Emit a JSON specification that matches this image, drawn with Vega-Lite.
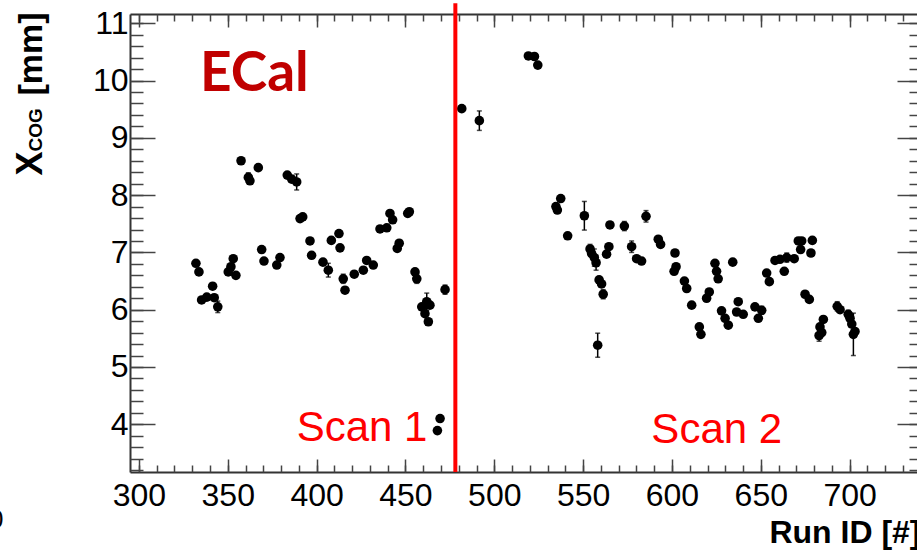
{
  "$schema": "https://vega.github.io/schema/vega-lite/v6.json",
  "autosize": "none",
  "width": 787,
  "height": 458,
  "padding": {"left": 130, "top": 14, "right": 0, "bottom": 79},
  "background": "white",
  "config": {
    "view": {"stroke": null},
    "axis": {
      "grid": false,
      "domainColor": "#333333",
      "domainWidth": 2,
      "tickColor": "#444444",
      "tickWidth": 1.5,
      "labelFont": "Liberation Sans",
      "labelFontSize": 32,
      "labelColor": "#000000",
      "labelFlush": false,
      "labelOverlap": false,
      "titleFont": "Liberation Sans",
      "titleFontWeight": "bold",
      "titleColor": "#000000"
    }
  },
  "datasets": {
    "runs": [
      {"run": 332.1, "xcog": 6.81, "err": 0.04},
      {"run": 333.8, "xcog": 6.66, "err": 0.04},
      {"run": 335.3, "xcog": 6.17, "err": 0.04},
      {"run": 338.2, "xcog": 6.22, "err": 0.04},
      {"run": 341.5, "xcog": 6.41, "err": 0.04},
      {"run": 342.4, "xcog": 6.21, "err": 0.04},
      {"run": 344.4, "xcog": 6.05, "err": 0.1},
      {"run": 350.3, "xcog": 6.66, "err": 0.04},
      {"run": 351.8, "xcog": 6.75, "err": 0.04},
      {"run": 353.1, "xcog": 6.89, "err": 0.04},
      {"run": 354.6, "xcog": 6.6, "err": 0.04},
      {"run": 357.5, "xcog": 8.6, "err": 0.04},
      {"run": 361.6, "xcog": 8.31, "err": 0.08},
      {"run": 362.5, "xcog": 8.25, "err": 0.04},
      {"run": 367.2, "xcog": 8.48, "err": 0.04},
      {"run": 369.1, "xcog": 7.05, "err": 0.04},
      {"run": 370.4, "xcog": 6.85, "err": 0.04},
      {"run": 377.6, "xcog": 6.78, "err": 0.04},
      {"run": 379.4, "xcog": 6.91, "err": 0.04},
      {"run": 383.5, "xcog": 8.35, "err": 0.04},
      {"run": 386.0, "xcog": 8.28, "err": 0.04},
      {"run": 388.8, "xcog": 8.23, "err": 0.14},
      {"run": 390.7, "xcog": 7.59, "err": 0.04},
      {"run": 392.2, "xcog": 7.62, "err": 0.04},
      {"run": 396.3, "xcog": 7.2, "err": 0.04},
      {"run": 397.2, "xcog": 6.95, "err": 0.04},
      {"run": 403.6, "xcog": 6.83, "err": 0.04},
      {"run": 406.6, "xcog": 6.69, "err": 0.12},
      {"run": 408.3, "xcog": 7.21, "err": 0.04},
      {"run": 412.6, "xcog": 7.33, "err": 0.04},
      {"run": 413.2, "xcog": 7.08, "err": 0.04},
      {"run": 415.0, "xcog": 6.54, "err": 0.08},
      {"run": 416.0, "xcog": 6.34, "err": 0.04},
      {"run": 421.2, "xcog": 6.62, "err": 0.04},
      {"run": 426.3, "xcog": 6.69, "err": 0.04},
      {"run": 428.2, "xcog": 6.86, "err": 0.04},
      {"run": 431.9, "xcog": 6.78, "err": 0.04},
      {"run": 435.7, "xcog": 7.41, "err": 0.04},
      {"run": 439.5, "xcog": 7.43, "err": 0.04},
      {"run": 441.3, "xcog": 7.68, "err": 0.04},
      {"run": 442.8, "xcog": 7.57, "err": 0.04},
      {"run": 445.4, "xcog": 7.07, "err": 0.04},
      {"run": 446.5, "xcog": 7.16, "err": 0.04},
      {"run": 451.3, "xcog": 7.68, "err": 0.04},
      {"run": 452.2, "xcog": 7.71, "err": 0.04},
      {"run": 455.4, "xcog": 6.66, "err": 0.04},
      {"run": 456.4, "xcog": 6.54, "err": 0.08},
      {"run": 459.2, "xcog": 6.05, "err": 0.04},
      {"run": 461.0, "xcog": 5.93, "err": 0.04},
      {"run": 462.0, "xcog": 6.14, "err": 0.15},
      {"run": 462.9, "xcog": 5.79, "err": 0.04},
      {"run": 463.8, "xcog": 6.08, "err": 0.04},
      {"run": 468.0, "xcog": 3.89, "err": 0.04},
      {"run": 469.5, "xcog": 4.1, "err": 0.04},
      {"run": 472.3, "xcog": 6.35, "err": 0.08},
      {"run": 481.7, "xcog": 9.51, "err": 0.04},
      {"run": 491.6, "xcog": 9.3, "err": 0.17},
      {"run": 519.2, "xcog": 10.43, "err": 0.04},
      {"run": 522.6, "xcog": 10.42, "err": 0.04},
      {"run": 524.5, "xcog": 10.27, "err": 0.04},
      {"run": 534.7, "xcog": 7.8, "err": 0.04},
      {"run": 535.5, "xcog": 7.74, "err": 0.04},
      {"run": 537.4, "xcog": 7.94, "err": 0.04},
      {"run": 541.3, "xcog": 7.29, "err": 0.04},
      {"run": 550.7, "xcog": 7.64, "err": 0.25},
      {"run": 553.9, "xcog": 7.06, "err": 0.08},
      {"run": 554.8, "xcog": 6.98, "err": 0.04},
      {"run": 556.3, "xcog": 6.91, "err": 0.15},
      {"run": 557.3, "xcog": 6.82, "err": 0.13},
      {"run": 558.2, "xcog": 5.38, "err": 0.21},
      {"run": 559.0, "xcog": 6.52, "err": 0.04},
      {"run": 560.4, "xcog": 6.45, "err": 0.04},
      {"run": 561.3, "xcog": 6.27, "err": 0.08},
      {"run": 563.2, "xcog": 6.97, "err": 0.04},
      {"run": 564.5, "xcog": 7.1, "err": 0.04},
      {"run": 565.1, "xcog": 7.48, "err": 0.04},
      {"run": 573.2, "xcog": 7.46, "err": 0.08},
      {"run": 577.3, "xcog": 7.1, "err": 0.1},
      {"run": 580.1, "xcog": 6.89, "err": 0.04},
      {"run": 582.9, "xcog": 6.85, "err": 0.04},
      {"run": 585.4, "xcog": 7.63, "err": 0.1},
      {"run": 592.3, "xcog": 7.23, "err": 0.04},
      {"run": 593.6, "xcog": 7.14, "err": 0.04},
      {"run": 601.2, "xcog": 6.67, "err": 0.04},
      {"run": 601.7, "xcog": 6.99, "err": 0.04},
      {"run": 602.3, "xcog": 6.75, "err": 0.04},
      {"run": 607.0, "xcog": 6.5, "err": 0.04},
      {"run": 608.3, "xcog": 6.37, "err": 0.04},
      {"run": 611.1, "xcog": 6.08, "err": 0.04},
      {"run": 615.4, "xcog": 5.7, "err": 0.04},
      {"run": 616.3, "xcog": 5.57, "err": 0.04},
      {"run": 619.5, "xcog": 6.2, "err": 0.04},
      {"run": 621.0, "xcog": 6.31, "err": 0.04},
      {"run": 624.2, "xcog": 6.81, "err": 0.04},
      {"run": 625.1, "xcog": 6.67, "err": 0.04},
      {"run": 626.0, "xcog": 6.54, "err": 0.04},
      {"run": 627.9, "xcog": 5.98, "err": 0.04},
      {"run": 629.9, "xcog": 5.85, "err": 0.04},
      {"run": 631.7, "xcog": 5.73, "err": 0.04},
      {"run": 634.2, "xcog": 6.83, "err": 0.04},
      {"run": 636.4, "xcog": 5.96, "err": 0.04},
      {"run": 637.3, "xcog": 6.14, "err": 0.04},
      {"run": 640.1, "xcog": 5.92, "err": 0.04},
      {"run": 646.7, "xcog": 6.05, "err": 0.04},
      {"run": 648.6, "xcog": 5.85, "err": 0.04},
      {"run": 650.5, "xcog": 5.99, "err": 0.07},
      {"run": 653.3, "xcog": 6.64, "err": 0.04},
      {"run": 654.8, "xcog": 6.49, "err": 0.04},
      {"run": 658.0, "xcog": 6.86, "err": 0.04},
      {"run": 660.8, "xcog": 6.88, "err": 0.04},
      {"run": 663.2, "xcog": 6.67, "err": 0.04},
      {"run": 664.6, "xcog": 6.91, "err": 0.08},
      {"run": 668.8, "xcog": 6.89, "err": 0.04},
      {"run": 671.1, "xcog": 7.2, "err": 0.04},
      {"run": 672.4, "xcog": 7.05, "err": 0.04},
      {"run": 673.0, "xcog": 7.2, "err": 0.04},
      {"run": 674.9, "xcog": 6.27, "err": 0.04},
      {"run": 677.3, "xcog": 6.18, "err": 0.04},
      {"run": 678.2, "xcog": 6.99, "err": 0.04},
      {"run": 679.0, "xcog": 7.21, "err": 0.04},
      {"run": 682.8, "xcog": 5.55, "err": 0.1},
      {"run": 683.3, "xcog": 5.7, "err": 0.04},
      {"run": 684.3, "xcog": 5.6, "err": 0.04},
      {"run": 685.2, "xcog": 5.83, "err": 0.04},
      {"run": 693.0, "xcog": 6.06, "err": 0.08},
      {"run": 694.6, "xcog": 6.0, "err": 0.04},
      {"run": 699.2, "xcog": 5.92, "err": 0.07},
      {"run": 700.2, "xcog": 5.85, "err": 0.04},
      {"run": 701.2, "xcog": 5.75, "err": 0.04},
      {"run": 702.1, "xcog": 5.57, "err": 0.37},
      {"run": 703.0, "xcog": 5.62, "err": 0.04}
    ],
    "divider": [{"run": 478.1, "lo": 3.167, "hi": 11.35}],
    "scans": [
      {"label": "Scan 1", "run": 425.6, "xcog": 3.715},
      {"label": "Scan 2", "run": 625.2, "xcog": 3.668}
    ],
    "detector": [{"label": "ECal", "run": 334.4, "xcog": 9.823}]
  },
  "resolve": {"axis": {"x": "independent", "y": "independent"}},
  "layer": [
    {
      "data": {"name": "runs"},
      "mark": {
        "type": "errorbar",
        "ticks": {"size": 5, "thickness": 1.5, "color": "#000000"},
        "rule": {"strokeWidth": 1.5, "color": "#000000"}
      },
      "encoding": {
        "x": {"field": "run", "type": "quantitative", "scale": {"domain": [295, 737.9], "nice": false, "zero": false}, "axis": null},
        "y": {"field": "xcog", "type": "quantitative", "scale": {"domain": [3.167, 11.162], "nice": false, "zero": false}, "axis": null},
        "yError": {"field": "err"}
      }
    },
    {
      "data": {"name": "runs"},
      "mark": {"type": "circle", "size": 92, "opacity": 1, "color": "#000000"},
      "encoding": {
        "x": {
          "field": "run", "type": "quantitative",
          "scale": {"domain": [295, 737.9], "nice": false, "zero": false},
          "axis": {
            "orient": "bottom",
            "values": [300, 350, 400, 450, 500, 550, 600, 650, 700],
            "tickSize": -13,
            "labelPadding": 46,
            "labelBaseline": "alphabetic",
            "title": "Run ID [#]",
            "titleFontSize": 32,
            "titleAlign": "right",
            "titleAnchor": null,
            "titleBaseline": "alphabetic",
            "titleX": 790,
            "titleY": 70
          }
        },
        "y": {
          "field": "xcog", "type": "quantitative",
          "scale": {"domain": [3.167, 11.162], "nice": false, "zero": false},
          "axis": {
            "orient": "left",
            "values": [4, 5, 6, 7, 8, 9, 10, 11],
            "tickSize": -25,
            "labelPadding": 27,
            "title": "X",
            "titleFontSize": 36,
            "titleAngle": -90,
            "titleAlign": "left",
            "titleBaseline": "alphabetic",
            "titleX": -88.3,
            "titleY": 161
          }
        }
      }
    },
    {
      "data": {"name": "divider"},
      "mark": {"type": "rule", "color": "#ff0000", "strokeWidth": 4},
      "encoding": {
        "x": {
          "field": "run", "type": "quantitative",
          "scale": {"domain": [295, 737.9], "nice": false, "zero": false},
          "axis": {
            "orient": "top",
            "values": [300, 350, 400, 450, 500, 550, 600, 650, 700],
            "tickSize": -13,
            "labels": false,
            "title": null
          }
        },
        "y": {
          "field": "lo", "type": "quantitative",
          "scale": {"domain": [3.167, 11.162], "nice": false, "zero": false},
          "axis": {
            "orient": "right",
            "offset": 5,
            "values": [4, 5, 6, 7, 8, 9, 10, 11],
            "tickSize": -25,
            "labels": false,
            "domain": false,
            "title": "[mm]",
            "titleFontSize": 34,
            "titleAngle": -90,
            "titleAlign": "left",
            "titleBaseline": "alphabetic",
            "titleX": -880.3,
            "titleY": 81
          }
        },
        "y2": {"field": "hi"}
      }
    },
    {
      "data": {"name": "scans"},
      "mark": {"type": "text", "font": "Liberation Sans", "fontSize": 42, "color": "#ff0000", "align": "center", "baseline": "alphabetic"},
      "encoding": {
        "x": {
          "field": "run", "type": "quantitative",
          "scale": {"domain": [295, 737.9], "nice": false, "zero": false},
          "axis": {
            "orient": "bottom",
            "values": [300, 310, 320, 330, 340, 350, 360, 370, 380, 390, 400, 410, 420, 430, 440, 450, 460, 470, 480, 490, 500, 510, 520, 530, 540, 550, 560, 570, 580, 590, 600, 610, 620, 630, 640, 650, 660, 670, 680, 690, 700, 710, 720, 730],
            "tickSize": -7,
            "labels": false,
            "domain": false,
            "title": "0",
            "titleFontSize": 26,
            "titleFontWeight": "normal",
            "titleAlign": "right",
            "titleAnchor": null,
            "titleBaseline": "alphabetic",
            "titleX": -127,
            "titleY": 55
          }
        },
        "y": {
          "field": "xcog", "type": "quantitative",
          "scale": {"domain": [3.167, 11.162], "nice": false, "zero": false},
          "axis": {
            "orient": "left",
            "values": [3.2, 3.4, 3.6, 3.8, 4.0, 4.2, 4.4, 4.6, 4.8, 5.0, 5.2, 5.4, 5.6, 5.8, 6.0, 6.2, 6.4, 6.6, 6.8, 7.0, 7.2, 7.4, 7.6, 7.8, 8.0, 8.2, 8.4, 8.6, 8.8, 9.0, 9.2, 9.4, 9.6, 9.8, 10.0, 10.2, 10.4, 10.6, 10.8, 11.0],
            "tickSize": -13,
            "labels": false,
            "domain": false,
            "title": "COG",
            "titleFontSize": 19,
            "titleAngle": -90,
            "titleAlign": "left",
            "titleBaseline": "alphabetic",
            "titleX": -88.3,
            "titleY": 137
          }
        },
        "text": {"field": "label"}
      }
    },
    {
      "data": {"name": "detector"},
      "mark": {"type": "text", "font": "Lato", "fontWeight": "bold", "fontSize": 55, "color": "#c00000", "align": "left", "baseline": "alphabetic"},
      "encoding": {
        "x": {
          "field": "run", "type": "quantitative",
          "scale": {"domain": [295, 737.9], "nice": false, "zero": false},
          "axis": {
            "orient": "top",
            "values": [300, 310, 320, 330, 340, 350, 360, 370, 380, 390, 400, 410, 420, 430, 440, 450, 460, 470, 480, 490, 500, 510, 520, 530, 540, 550, 560, 570, 580, 590, 600, 610, 620, 630, 640, 650, 660, 670, 680, 690, 700, 710, 720, 730],
            "tickSize": -7,
            "labels": false,
            "domain": false,
            "title": null
          }
        },
        "y": {
          "field": "xcog", "type": "quantitative",
          "scale": {"domain": [3.167, 11.162], "nice": false, "zero": false},
          "axis": {
            "orient": "right",
            "offset": 5,
            "values": [3.2, 3.4, 3.6, 3.8, 4.0, 4.2, 4.4, 4.6, 4.8, 5.0, 5.2, 5.4, 5.6, 5.8, 6.0, 6.2, 6.4, 6.6, 6.8, 7.0, 7.2, 7.4, 7.6, 7.8, 8.0, 8.2, 8.4, 8.6, 8.8, 9.0, 9.2, 9.4, 9.6, 9.8, 10.0, 10.2, 10.4, 10.6, 10.8, 11.0],
            "tickSize": -13,
            "labels": false,
            "domain": false,
            "title": null
          }
        },
        "text": {"field": "label"}
      }
    }
  ]
}
